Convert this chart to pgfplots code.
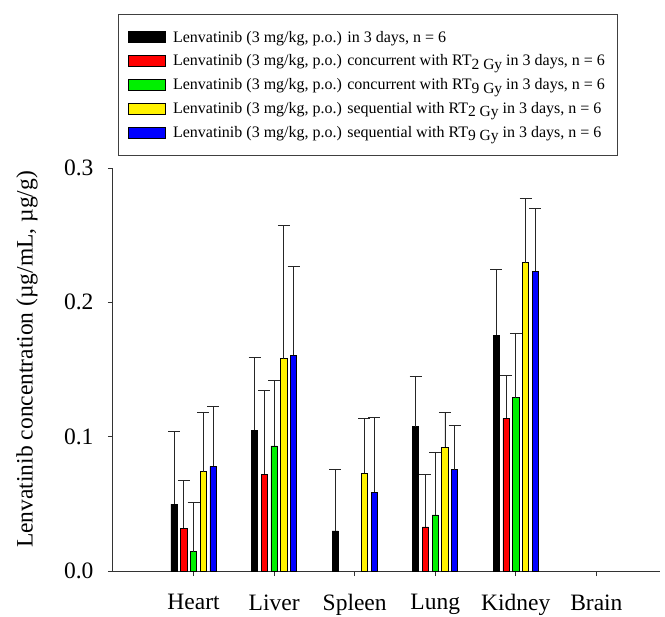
\documentclass[border=0pt]{standalone}
\usepackage{pgfplots}
\pgfplotsset{compat=1.18}
\usepackage{fontspec}
\setmainfont{Liberation Serif}
\newcommand\sub[1]{\raisebox{-0.45ex}{\fontsize{15.5bp}{15.5bp}\selectfont #1}}
\definecolor{cgreen}{RGB}{0,240,0}
\begin{document}
\begin{tikzpicture}
\begin{axis}[
  scale only axis, width=547bp, height=403bp,
  xmin=-1, xmax=5.79, ymin=0, ymax=0.3,
  axis x line*=bottom, axis y line*=left,
  axis line style={black!80, line width=1bp, -},
  ytick={0,0.1,0.2,0.3},
  yticklabel style={/pgf/number format/fixed, /pgf/number format/fixed zerofill, /pgf/number format/precision=1, xshift=-11bp},
  xtick={0,1,2,3,4,5},
  xticklabels={Heart,Liver,Spleen,Lung,Kidney,Brain},
  tick align=outside, major tick length=5bp,
  tick style={black!80, line width=0.8bp},
  /pgf/number format/assume math mode=true,
  tick label style={font=\fontsize{23.5bp}{27bp}\selectfont},
  xticklabel style={yshift=-15bp},
  ylabel={Lenvatinib concentration (µg/mL, µg/g)},
  ylabel style={font=\fontsize{23.5bp}{27bp}\selectfont, at={(axis description cs:-0.157,0.525)}, anchor=center},
  ybar=3.45bp, bar width=6.3bp,
  error bars/y dir=plus, error bars/y explicit,
  error bars/error bar style={black!85, line width=0.8bp},
  error bars/error mark options={rotate=90, black!85, mark size=6bp, line width=0.8bp},
  legend style={at={(0.009,1.382)}, anchor=north west, draw=black!75, line width=0.8bp,
    font=\fontsize{16bp}{19bp}\selectfont, row sep=7.25bp, inner xsep=10bp, inner ysep=14.5bp,
    /tikz/every odd column/.append style={column sep=5bp}},
  legend cell align=left,
  legend image code/.code={\draw[#1, draw=black, line width=0.8bp] (0bp,-5.5bp) rectangle (37bp,5.5bp);},
  mybar/.style={draw=black, line width=0.8bp},
]
\addplot+[mybar, fill=black] coordinates {
 (0,0.0497) +- (0,0.0543)
 (1,0.1047) +- (0,0.0546)
 (2,0.0298) +- (0,0.0461)
 (3,0.1074) +- (0,0.0378)
 (4,0.1755) +- (0,0.0493)
};
\addlegendentry{Lenvatinib (3 mg/kg, p.o.) in 3 days, n = 6}
\addplot+[mybar, fill=red] coordinates {
 (0,0.0318) +- (0,0.0357)
 (1,0.0722) +- (0,0.0620)
 (3,0.0328) +- (0,0.0392)
 (4,0.1137) +- (0,0.0322)
};
\addlegendentry{Lenvatinib (3 mg/kg, p.o.) concurrent with RT\sub{2 Gy} in 3 days, n = 6}
\addplot+[mybar, fill=cgreen] coordinates {
 (0,0.0144) +- (0,0.0367)
 (1,0.0931) +- (0,0.0486)
 (3,0.0417) +- (0,0.0469)
 (4,0.1290) +- (0,0.0482)
};
\addlegendentry{Lenvatinib (3 mg/kg, p.o.) concurrent with RT\sub{9 Gy} in 3 days, n = 6}
\addplot+[mybar, fill=yellow] coordinates {
 (0,0.0739) +- (0,0.0445)
 (1,0.1580) +- (0,0.0990)
 (2,0.0727) +- (0,0.0410)
 (3,0.0921) +- (0,0.0258)
 (4,0.2295) +- (0,0.0475)
};
\addlegendentry{Lenvatinib (3 mg/kg, p.o.) sequential with RT\sub{2 Gy} in 3 days, n = 6}
\addplot+[mybar, fill=blue] coordinates {
 (0,0.0779) +- (0,0.0444)
 (1,0.1606) +- (0,0.0664)
 (2,0.0588) +- (0,0.0553)
 (3,0.0754) +- (0,0.0328)
 (4,0.2233) +- (0,0.0468)
};
\addlegendentry{Lenvatinib (3 mg/kg, p.o.) sequential with RT\sub{9 Gy} in 3 days, n = 6}
\end{axis}
\pgfresetboundingbox
\path[use as bounding box] (-113bp,-46bp) rectangle (552bp,571bp);
\end{tikzpicture}
\end{document}
